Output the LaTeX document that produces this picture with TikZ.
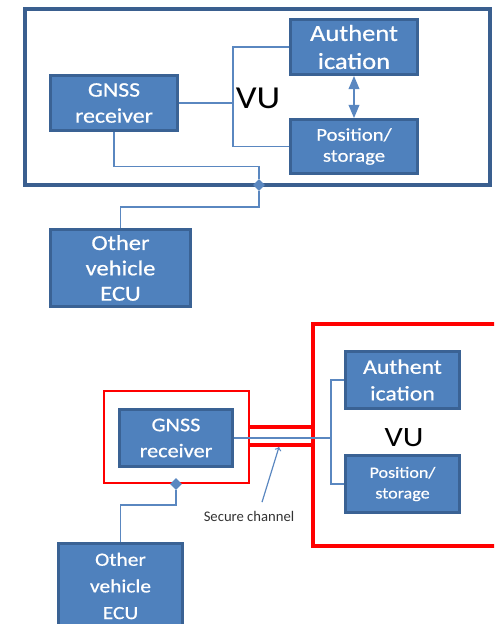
\documentclass[tikz,border=0pt]{standalone}
\usepackage{fontspec}
\setmainfont{Carlito}
\newfontfamily\boxfont[FakeStretch=1.15,FakeBold=0.6]{Carlito}
\newfontfamily\vufont[FakeStretch=1.15]{Carlito}
\usetikzlibrary{shapes,arrows,positioning}
\definecolor{boxfill}{HTML}{4F81BD}
\definecolor{boxedge}{HTML}{3A6294}
\definecolor{vuedge}{HTML}{3A5F8F}
\definecolor{linkblue}{HTML}{5A87C0}
\definecolor{secred}{HTML}{FF0000}

\begin{document}
\begin{tikzpicture}[x=0.75pt,y=-0.75pt]

  \tikzset{unit node/.style={rectangle, draw=boxedge, fill=boxfill,
  		line width=2.25pt, text=white, align=center, inner sep=0pt}, }
  \tikzset{frame node/.style={rectangle, draw, inner sep=0pt}, }
  \tikzset{linkb/.style={draw=linkblue, line width=1.3pt}, }
  \tikzset{tap/.style={diamond, fill=linkblue, inner sep=0pt, minimum size=9pt}, }
  \tikzset{redpipe/.style={draw=secred, line width=2.6pt}, }
  \clip (0,0) rectangle (494,624);

  % plain VU
  \node[frame node, draw=vuedge, line width=3pt, minimum width=349pt, minimum height=132pt] (vu1) at (257.25,97) {};
  \node[unit node, minimum width=95.25pt, minimum height=41.25pt, font=\boxfont\fontsize{15.5}{19.5}\selectfont] (gnss1) at (114,103) {GNSS\\receiver};
  \node[unit node, minimum width=95.25pt, minimum height=41.25pt, font=\boxfont\fontsize{17.3}{21}\selectfont] (auth1) at (354,47) {Authent\\ication};
  \node[unit node, minimum width=95.25pt, minimum height=40.5pt, font=\boxfont\fontsize{13.5}{15.75}\selectfont] (pos1) at (354,146.5) {Position/\\storage};
  \node[unit node, minimum width=105pt, minimum height=57.75pt, font=\boxfont\fontsize{16}{19}\selectfont] (other1) at (120.5,268) {Other\\vehicle\\ECU};
  \node[font=\vufont\fontsize{24}{28}\selectfont] (lbl1) at (258,98) {VU};
  \node[tap] (tap1) at (259,185) {};
  \coordinate (bus1) at (233,0);

  \draw[linkb] (gnss1.east) -- (gnss1.east -| bus1);
  \draw[linkb] (auth1.west) -| (bus1 |- pos1.west) -- (pos1.west);
  \draw[linkb, triangle 45-triangle 45] (auth1.south) -- (pos1.north);
  \draw[linkb] (gnss1.south) -- ++(0,34.5) -| (tap1);
  \draw[linkb] (tap1) -- ++(0,22) -| (other1.north);

  % VU with secure channel
  \node[frame node, draw=secred, line width=2.6pt, minimum width=185.25pt, minimum height=166.5pt] (vu2) at (436.5,435) {};
  \node[frame node, draw=secred, line width=1.9pt, minimum width=108.75pt, minimum height=69pt] (sec2) at (176.5,437) {};
  \node[unit node, minimum width=84.75pt, minimum height=42.75pt, font=\boxfont\fontsize{14.5}{19.5}\selectfont] (gnss2) at (176,438) {GNSS\\receiver};
  \node[unit node, minimum width=85.5pt, minimum height=42.75pt, font=\boxfont\fontsize{15.5}{20}\selectfont] (auth2) at (402.5,380) {Authent\\ication};
  \node[unit node, minimum width=85.5pt, minimum height=42.75pt, font=\boxfont\fontsize{11.8}{15.5}\selectfont] (pos2) at (402.5,484) {Position/\\storage};
  \node[unit node, minimum width=93pt, minimum height=64.5pt, font=\boxfont\fontsize{14}{20}\selectfont] (other2) at (120.5,586) {Other\\vehicle\\ECU};
  \node[font=\vufont\fontsize{21}{25}\selectfont] (lbl2) at (404,438) {VU};
  \node[tap] (tap2) at (176,484) {};
  \node[text=black!80, font=\fontsize{11}{13}\selectfont] (chanlbl) at (249,516) {Secure channel};
  \coordinate (bus2) at (331,0);
  \coordinate (chantip) at (279,447);

  \foreach \y in {427,445}
    \draw[redpipe] (sec2.east |- 0,\y) -- (vu2.west |- 0,\y);
  \draw[linkb] (gnss2.east) -- (gnss2.east -| bus2);
  \draw[linkb] (auth2.west) -| (bus2 |- pos2.west) -- (pos2.west);
  \draw[linkb] (tap2) -- ++(0,21) -| (other2.north);
  \draw[draw=linkblue, line width=0.9pt, ->] (chanlbl.north) ++(13,-4) -- (chantip);
%%
\end{tikzpicture}
\end{document}
